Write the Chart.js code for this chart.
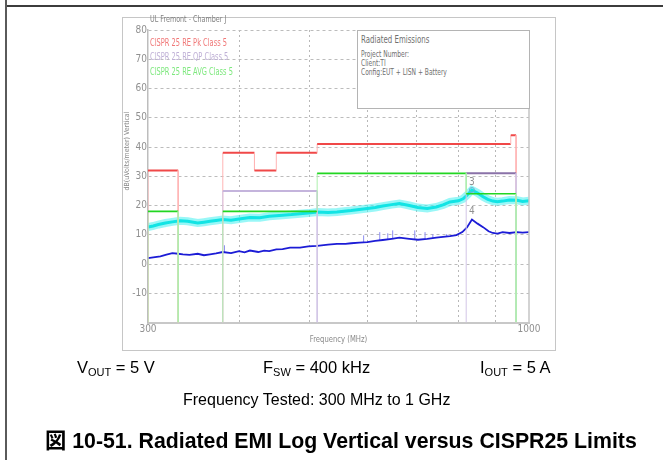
<!DOCTYPE html>
<html lang="en">
<head>
  <meta charset="utf-8" />
  <title>Radiated EMI Log Vertical versus CISPR25 Limits</title>
  <script src="https://cdn.jsdelivr.net/npm/chart.js@4/dist/chart.umd.min.js"></script>
  <style>
    html, body { margin: 0; padding: 0; background: #fff; }
    #page {
      position: relative;
      width: 663px;
      height: 460px;
      overflow: hidden;
      font-family: Arial, "Liberation Sans", "Noto Sans CJK JP", sans-serif;
      color: #000;
    }
    #frame-top { position: absolute; left: 5px; top: 5px; width: 658px; height: 2px; background: #3c3c3c; }
    #frame-left { position: absolute; left: 5px; top: 0; width: 2px; height: 460px; background: #5a5a5a; }
    #shot { position: absolute; left: 122px; top: 17px; width: 432px; height: 332px; border: 1px solid #c6c6c6; }
    #emi { position: absolute; left: 0; top: 0; }
    #info {
      position: absolute;
      left: 357px; top: 30px;
      width: 171px; height: 77px;
      border: 1px solid #b4b4b4;
      background: #fff;
      font-family: "Liberation Sans Narrow", "DejaVu Sans Condensed", sans-serif;
      color: #707070;
    }
    #info div {
      position: absolute; left: 3px; white-space: nowrap;
      transform: scaleX(0.78); transform-origin: left center;
    }
    .cond { position: absolute; font-size: 16.5px; white-space: nowrap; }
    .cond sub { font-size: 11px; vertical-align: -3px; }
    #caption {
      position: absolute; left: 45px; top: 423px;
      font-size: 21.3px; font-weight: bold; white-space: nowrap;
      font-family: Arial, "Liberation Sans", "Noto Sans CJK JP", sans-serif;
    }
  </style>
</head>
<body>
<div id="page">
  <div id="frame-top"></div>
  <div id="frame-left"></div>
  <div id="shot"></div>
  <canvas id="emi" width="663" height="460"></canvas>
  <div id="info">
    <div style="top:3px;font-size:10px;">Radiated Emissions</div>
    <div style="top:18px;font-size:8.5px;">Project Number:</div>
    <div style="top:27px;font-size:8.5px;">Client:TI</div>
    <div style="top:36px;font-size:8.5px;">Config:EUT + LISN + Battery</div>
  </div>
  <div class="cond" style="left:77px;top:358px;">V<sub>OUT</sub> = 5 V</div>
  <div class="cond" style="left:263px;top:358px;">F<sub>SW</sub> = 400 kHz</div>
  <div class="cond" style="left:480px;top:358px;">I<sub>OUT</sub> = 5 A</div>
  <div class="cond" style="left:183px;top:391px;font-size:16px;">Frequency Tested: 300 MHz to 1 GHz</div>
  <div id="caption">図 10-51. Radiated EMI Log Vertical versus CISPR25 Limits</div>
</div>

<script>
  // --- axis ticks ---
  const xTickValues = [300, 400, 500, 600, 700, 800, 900, 1000];
  const xTickLabels = ["300", "", "", "", "", "", "", "1000"];
  const yTickValues = [-20, -10, 0, 10, 20, 30, 40, 50, 60, 70, 80];
  const yTickLabels = ["", "-10", "0", "10", "20", "30", "40", "50", "60", "70", "80"];

  // --- CISPR 25 class 5 limit lines (MHz, dBuV/m); null = gap between bands ---
  const pkFreq  = [300, 300, 330, 330, 355, 380, 380, 420, 420, 450, 450, 512, 512, 944, 944, 960, 960];
  const pkLevel = [-20, 32, 32, -20, null, -20, 38, 38, 32, 32, 38, 38, 41, 41, 44, 44, -20];
  const qpFreq  = [380, 380, 512, 512, 700, 820, 820, 960, 960];
  const qpLevel = [-20, 25, 25, -20, null, -20, 31, 31, -20];
  const avgFreq  = [300, 300, 330, 330, 355, 380, 380, 512, 512, 820, 820, 960, 960];
  const avgLevel = [-20, 18, 18, -20, null, -20, 18, 18, 31, 31, 24, 24, -20];

  // --- measured traces ---
  const peakFreq  = [300, 305, 310, 317, 324, 332, 340, 351, 358, 365, 372, 380, 390, 400, 414, 427, 440, 459,
                     472, 485, 498, 512, 530, 545, 570, 600, 615, 630, 648, 664, 685, 704, 725, 746, 762,
                     779, 800, 812, 822, 835, 850, 865, 878, 892, 905, 920, 940, 963, 980, 1000];
  const peakLevel = [12.6, 13.0, 13.5, 14.0, 14.4, 14.8, 14.6, 14.0, 14.3, 14.6, 14.9, 15.2, 15.0, 15.4, 15.9, 15.8, 16.3, 16.7,
                     16.9, 17.2, 17.4, 17.8, 17.6, 17.8, 18.3, 19.0, 19.3, 19.8, 20.3, 20.7, 20.0, 19.3, 19.0, 19.5, 20.2,
                     21.2, 21.6, 22.3, 23.5, 25.3, 24.3, 23.0, 22.1, 21.5, 21.3, 21.5, 21.9, 21.8, 21.4, 21.6];
  const avgTrFreq  = [300, 305, 312, 318, 324, 330, 335, 342, 351, 358, 365, 372, 380, 390, 400, 407, 414,
                      425, 433, 440, 450, 459, 470, 485, 498, 512, 530, 545, 560, 570, 585, 600, 615, 630,
                      648, 664, 685, 704, 725, 746, 762, 779, 795, 810, 822, 835, 850, 865, 880, 892, 905,
                      920, 940, 963, 980, 1000];
  const avgTrLevel = [2.0, 2.3, 2.6, 3.2, 3.7, 3.5, 3.3, 3.1, 3.5, 3.0, 3.3, 3.6, 4.1, 3.7, 4.4, 4.0, 4.6,
                      4.1, 4.6, 4.4, 5.0, 5.1, 5.6, 5.6, 6.0, 6.2, 6.6, 6.9, 6.9, 7.1, 7.3, 7.5, 7.9, 8.2,
                      8.6, 9.0, 8.6, 8.3, 8.6, 9.0, 9.3, 9.5, 9.9, 10.9, 12.5, 15.2, 13.8, 12.6, 11.2, 10.6, 10.4,
                      10.9, 10.6, 10.9, 10.7, 10.9];
  // short spikes above the average trace (base, top, gap)
  const spikeFreq  = [382, 382, 383, 593, 593, 594, 624, 624, 625, 640, 640, 641, 650, 650, 651,
                      697, 697, 698, 720, 720, 721, 738, 738, 739, 771, 771, 772];
  const spikeLevel = [4.1, 6.4, null, 7.5, 9.8, null, 8.0, 10.9, null, 8.4, 10.5, null, 8.6, 11.5, null,
                      8.4, 11.5, null, 8.5, 10.9, null, 8.8, 10.2, null, 9.4, 10.2, null];

  // --- peak markers ---
  const markerFreq  = [835, 835];
  const markerLevel = [25.3, 15.2];
  const markerText  = ["3", "4"];

  const plotFont = '"Liberation Sans Narrow", "DejaVu Sans Condensed", sans-serif';

  function pts(xs, ys) {
    return xs.map((x, i) => ({ x: x, y: ys[i] }));
  }
  function isVertical(seg) {
    return seg.p0.parsed.x === seg.p1.parsed.x;
  }
  // narrow plotter-style text
  function narrowText(ctx, text, x, y, sx) {
    ctx.save();
    ctx.translate(x, y);
    ctx.scale(sx, 1);
    ctx.fillText(text, 0, 0);
    ctx.restore();
  }

  // plain text pieces drawn inside the plot frame
  const plotText = {
    id: "plotText",
    afterDraw(chart) {
      const { ctx, chartArea, scales } = chart;
      ctx.save();
      // right frame line
      ctx.strokeStyle = "#c4c4c4";
      ctx.lineWidth = 1.5;
      ctx.beginPath();
      ctx.moveTo(chartArea.right, chartArea.top);
      ctx.lineTo(chartArea.right, chartArea.bottom);
      ctx.stroke();

      ctx.textBaseline = "middle";
      ctx.textAlign = "left";
      ctx.font = "9.5px " + plotFont;
      ctx.fillStyle = "#808080";
      narrowText(ctx, "UL Fremont - Chamber J", 150, 20, 0.75);

      ctx.font = "10px " + plotFont;
      ctx.fillStyle = "#f07878";
      narrowText(ctx, "CISPR 25 RE Pk Class 5", 150, 43, 0.74);
      ctx.fillStyle = "#bfb0d6";
      narrowText(ctx, "CISPR 25 RE QP Class 5", 150, 57, 0.74);
      ctx.fillStyle = "#7ee87e";
      narrowText(ctx, "CISPR 25 RE AVG Class 5", 150, 72, 0.74);

      ctx.textAlign = "center";
      ctx.fillStyle = "#8a8a8a";
      ctx.font = "9.5px " + plotFont;
      narrowText(ctx, "Frequency (MHz)", (chartArea.left + chartArea.right) / 2, 340, 0.8);

      ctx.save();
      ctx.translate(127, 151);
      ctx.rotate(-Math.PI / 2);
      ctx.font = "7px " + plotFont;
      ctx.fillText("dB(uVolts/meter) Vertical", 0, 0);
      ctx.restore();

      ctx.font = "10px " + plotFont;
      ctx.fillStyle = "#909090";
      markerText.forEach((t, i) => {
        const px = scales.x.getPixelForValue(markerFreq[i]);
        const py = scales.y.getPixelForValue(markerLevel[i]);
        ctx.fillText(t, px, py - 8);
      });
      ctx.restore();
    }
  };

  const ctx = document.getElementById("emi").getContext("2d");
  const chart = new Chart(ctx, {
    type: "line",
    data: {
      datasets: [
        {
          label: "CISPR 25 RE AVG Class 5",
          data: pts(avgFreq, avgLevel),
          borderColor: "#22d622",
          borderWidth: 1.6,
          segment: {
            borderColor: s => isVertical(s) ? "#aef0ae" : "#22d622",
            borderWidth: s => isVertical(s) ? 1 : 1.6
          }
        },
        {
          label: "CISPR 25 RE QP Class 5",
          data: pts(qpFreq, qpLevel),
          borderColor: "#c4b4dc",
          borderWidth: 2,
          segment: {
            borderColor: s => isVertical(s) ? "#d2c6e6" : (s.p0.parsed.x >= 800 ? "#8a72a8" : "#c4b4dc"),
            borderWidth: s => isVertical(s) ? 1 : 2
          }
        },
        {
          label: "CISPR 25 RE Pk Class 5",
          data: pts(pkFreq, pkLevel),
          borderColor: "#f04848",
          borderWidth: 2,
          segment: {
            borderColor: s => isVertical(s) ? "#ffb4b4" : "#f04848",
            borderWidth: s => isVertical(s) ? 1 : 2
          }
        },
        {
          label: "Markers",
          data: pts(markerFreq, markerLevel),
          showLine: false,
          pointRadius: [2.5, 0],
          pointBackgroundColor: "rgba(0,0,0,0)",
          pointBorderColor: "#6fb0d0",
          pointBorderWidth: 1
        },
        {
          label: "Average",
          data: pts(avgTrFreq, avgTrLevel),
          borderColor: "#1c1cd6",
          borderWidth: 1.8
        },
        {
          label: "Average spikes",
          data: pts(spikeFreq, spikeLevel),
          borderColor: "#8c8cf0",
          borderWidth: 1
        },
        {
          label: "Peak",
          data: pts(peakFreq, peakLevel),
          borderColor: "#12e4e4",
          borderWidth: 3
        },
        {
          label: "Peak spread",
          data: pts(peakFreq, peakLevel),
          borderColor: "rgba(70,240,240,0.55)",
          borderWidth: 8
        }
      ]
    },
    options: {
      responsive: false,
      animation: false,
      spanGaps: false,
      elements: {
        point: { radius: 0 },
        line: { tension: 0, fill: false, borderJoinStyle: "miter" }
      },
      layout: { padding: { left: 118, top: 30, right: 134, bottom: 117.5 } },
      plugins: {
        legend: { display: false },
        tooltip: { enabled: false }
      },
      scales: {
        x: {
          type: "logarithmic",
          min: 300,
          max: 1000,
          afterBuildTicks: s => { s.ticks = xTickValues.map(v => ({ value: v })); },
          afterFit: s => { s.height = 20; },
          ticks: {
            autoSkip: false,
            maxRotation: 0,
            padding: 1,
            color: "#909090",
            font: { family: plotFont, size: 10 },
            callback: (v, i) => xTickLabels[i]
          },
          grid: {
            drawTicks: false,
            lineWidth: 1,
            color: c => (c.tick && (c.tick.value === 300 || c.tick.value === 1000)) ? "rgba(0,0,0,0)" : "#b8b8b8"
          },
          border: { display: true, color: "#c8c8c8", width: 2, dash: [2, 3] }
        },
        y: {
          min: -20,
          max: 80,
          afterBuildTicks: s => { s.ticks = yTickValues.map(v => ({ value: v })); },
          afterFit: s => { s.width = 30; },
          ticks: {
            autoSkip: false,
            padding: 1,
            color: "#909090",
            font: { family: plotFont, size: 10 },
            callback: (v, i) => yTickLabels[i]
          },
          grid: {
            drawTicks: false,
            lineWidth: 1,
            color: c => (c.tick && c.tick.value === -20) ? "rgba(0,0,0,0)" : "#bcbcbc"
          },
          border: { display: true, color: "#bdbdbd", width: 1.5, dash: [3, 3] }
        }
      }
    },
    plugins: [plotText]
  });
</script>
</body>
</html>
